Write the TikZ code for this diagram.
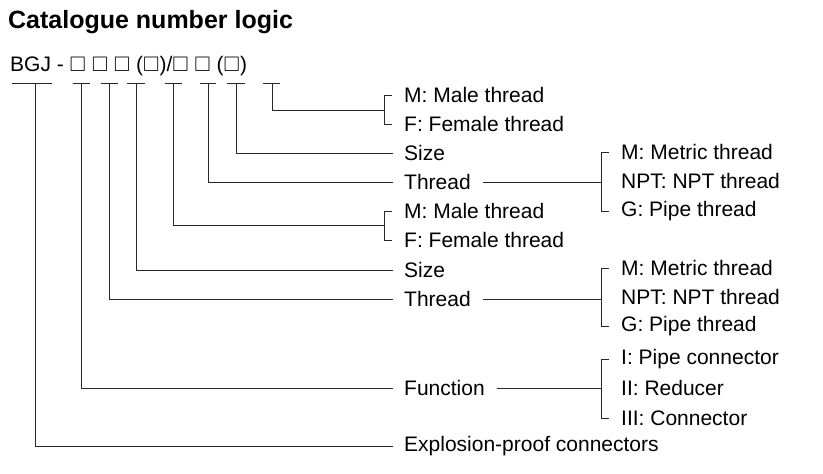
\documentclass[tikz,border=0pt]{standalone}
\usepackage{amssymb}
\usepackage{fontspec}
\setmainfont{Liberation Sans}
\begin{document}
\begin{tikzpicture}[x=1pt,y=-1pt,
  lbl/.style={anchor=west,inner sep=0pt,font=\fontsize{21}{24}\selectfont},
  ln/.style={draw=black!85,line width=0.8pt}]
\useasboundingbox (0,0) rectangle (823,474);
\node[anchor=west,inner sep=0pt,font=\fontsize{25}{28}\selectfont\bfseries] (title) at (8,22) {Catalogue number logic};
\node[anchor=west,inner sep=0pt,font=\fontsize{21}{24}\selectfont] (code) at (10,66) {BGJ - $\square$ $\square$ $\square$ ($\square$)/$\square$ $\square$ ($\square$)};
% underlines
\foreach \a/\b in {12/52,73/90,101/118,127/145,165/182,200/216,227/245,263/280}
  \draw[ln] (\a,83) -- (\b,83);
% labels
\node[lbl] (m1) at (404,95) {M: Male thread};
\node[lbl] (f1) at (404,124) {F: Female thread};
\node[lbl] (s1) at (404,153) {Size};
\node[lbl] (t1) at (404,182) {Thread};
\node[lbl] (m2) at (404,211) {M: Male thread};
\node[lbl] (f2) at (404,240) {F: Female thread};
\node[lbl] (s2) at (404,270) {Size};
\node[lbl] (t2) at (404,299) {Thread};
\node[lbl] (fn) at (404,388) {Function};
\node[lbl] (ex) at (404,446) {Explosion-proof connectors};
\node[lbl] (a1) at (621,152) {M: Metric thread};
\node[lbl] (a2) at (621,181) {NPT: NPT thread};
\node[lbl] (a3) at (621,211) {G: Pipe thread};
\node[lbl] (b1) at (621,268) {M: Metric thread};
\node[lbl] (b2) at (621,297) {NPT: NPT thread};
\node[lbl] (b3) at (621,326) {G: Pipe thread};
\node[lbl] (c1) at (621,359) {I: Pipe connector};
\node[lbl] (c2) at (621,388) {II: Reducer};
\node[lbl] (c3) at (621,418) {III: Connector};
% brackets
\foreach \n/\o in {m1/f1,m2/f2,a1/a3,b1/b3,c1/c3}{
  \draw[ln] ([xshift=-12pt]\n.west) -- ++(-8,0) |- ([xshift=-12pt]\o.west);
}
% connectors from code
\draw[ln] (272,83) |- (384,110);
\draw[ln] (236,83) |- ([xshift=-11pt]s1.west);
\draw[ln] (208,83) |- ([xshift=-11pt]t1.west);
\draw[ln] (173,83) |- (384,225);
\draw[ln] (136,83) |- ([xshift=-11pt]s2.west);
\draw[ln] (109,83) |- ([xshift=-11pt]t2.west);
\draw[ln] (81,83) |- ([xshift=-11pt]fn.west);
\draw[ln] (35,83) |- ([xshift=-11pt]ex.west);
% sub connectors
\draw[ln] ([xshift=12pt]t1.east) -- ([xshift=-20pt]a2.west|-t1.east);
\draw[ln] ([xshift=12pt]t2.east) -- ([xshift=-20pt]b2.west|-t2.east);
\draw[ln] ([xshift=12pt]fn.east) -- ([xshift=-20pt]c2.west|-fn.east);
\end{tikzpicture}
\end{document}
